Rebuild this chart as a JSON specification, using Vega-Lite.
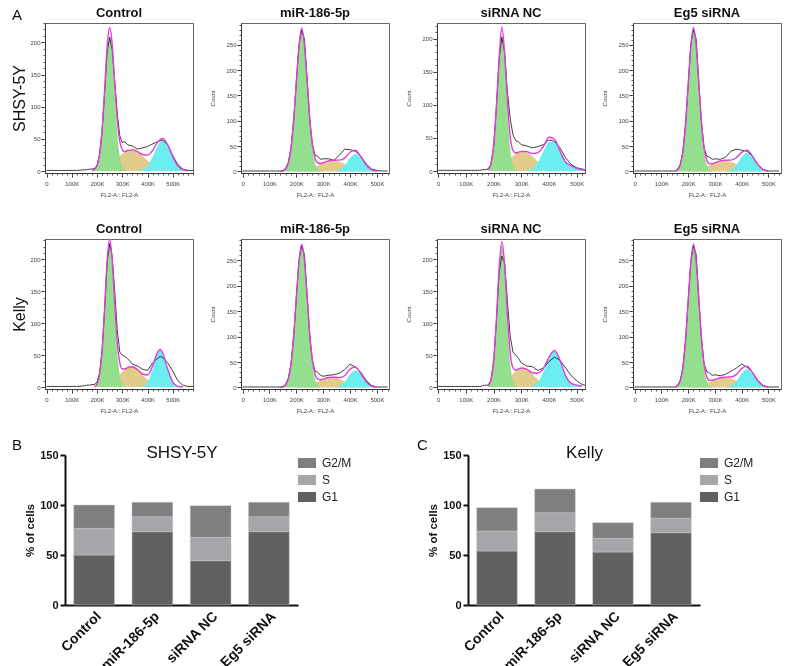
{
"$schema":"https://vega.github.io/schema/vega-lite/v6.json",
"background":"white",
"padding":{"left":11,"top":6,"right":0,"bottom":0},
"config":{"font":"Liberation Sans","view":{"stroke":"#666","strokeWidth":1},"axis":{"labelFont":"Liberation Sans","titleFont":"Liberation Sans","grid":false},"axisY":{"labelOverlap":false},"legend":{"labelFont":"Liberation Sans"},"title":{"font":"Liberation Sans"}},
"datasets":{
"h":[
{"p":"a1","x":0,"r":1},{"p":"a1","x":60,"r":1},{"p":"a1","x":120,"r":1},{"p":"a1","x":150,"r":2},{"p":"a1","x":160,"r":2},{"p":"a1","x":170,"r":3},
{"p":"a1","x":180,"g":0.2,"s":0.6,"f":0.8,"r":3},{"p":"a1","x":190,"g":1.5,"s":1,"f":2.5,"r":4},{"p":"a1","x":200,"g":6.4,"s":1.6,"f":8,"r":9},
{"p":"a1","x":210,"g":22.7,"s":2.5,"f":25.2,"r":26},{"p":"a1","x":220,"g":59.9,"s":3.7,"f":63.6,"r":62},{"p":"a1","x":230,"g":119.6,"s":5.3,"f":124.9,"r":122},
{"p":"a1","x":240,"g":181.2,"s":7.4,"f":193,"r":185},{"p":"a1","x":250,"g":208,"s":10,"f":223,"r":208},{"p":"a1","x":260,"g":181.2,"s":13,"f":197,"r":188},
{"p":"a1","x":270,"g":119.6,"s":16.4,"f":136,"r":140},{"p":"a1","x":280,"g":59.9,"s":20,"f":79.9,"r":90},{"p":"a1","x":290,"g":22.7,"s":23.6,"f":46.3,"r":55},
{"p":"a1","x":300,"g":6.4,"s":27,"f":33.4,"r":44},{"p":"a1","x":310,"g":1.5,"s":28.3,"f":29.8,"r":46},{"p":"a1","x":320,"g":0.2,"s":31.8,"f":32,"r":41},
{"p":"a1","x":340,"s":32.9,"f":32.9,"r":39},{"p":"a1","x":360,"s":29.8,"m":0.4,"f":30.2,"r":34},{"p":"a1","x":380,"s":23.6,"m":2.1,"f":25.7,"r":36},
{"p":"a1","x":400,"s":16.4,"m":8.3,"f":24.7,"r":38},{"p":"a1","x":420,"s":10,"m":22,"f":32,"r":42},{"p":"a1","x":440,"s":5.3,"m":39.5,"f":44.8,"r":46},
{"p":"a1","x":460,"s":2.5,"m":48,"f":50.5,"r":48},{"p":"a1","x":480,"s":1,"m":39.5,"f":40.5,"r":41},{"p":"a1","x":500,"s":0.4,"m":22,"f":22.4,"r":24},
{"p":"a1","x":520,"m":8.3,"f":8.3,"r":10},{"p":"a1","x":540,"m":2.1,"f":2.1,"r":3},{"p":"a1","x":560,"m":0.4,"f":0.4,"r":1},{"p":"a1","x":580,"r":1},

{"p":"a2","x":0,"r":1},{"p":"a2","x":60,"r":1},{"p":"a2","x":120,"r":1},{"p":"a2","x":140,"g":0.3,"f":0.3,"r":1},{"p":"a2","x":150,"g":1,"f":1,"r":2},
{"p":"a2","x":160,"g":4.7,"f":4.7,"r":6},{"p":"a2","x":170,"g":16.3,"f":16.3,"r":18},{"p":"a2","x":180,"g":45,"f":45,"r":47},
{"p":"a2","x":190,"g":99.4,"s":0.3,"f":99.7,"r":100},{"p":"a2","x":200,"g":175.3,"s":0.6,"f":175.9,"r":178},{"p":"a2","x":210,"g":246.5,"s":1,"f":247.5,"r":250},
{"p":"a2","x":220,"g":276,"s":1.6,"f":283,"r":279},{"p":"a2","x":230,"g":246.5,"s":2.4,"f":248.9,"r":262},{"p":"a2","x":240,"g":175.3,"s":3.6,"f":178.9,"r":185},
{"p":"a2","x":250,"g":99.4,"s":5.2,"f":104.6,"r":102},{"p":"a2","x":260,"g":45,"s":7.1,"f":52.1,"r":52},{"p":"a2","x":270,"g":16.3,"s":9.5,"f":25.8,"r":32},
{"p":"a2","x":280,"g":4.7,"s":12,"f":16.7,"r":30},{"p":"a2","x":290,"g":1,"s":14.7,"f":15.7,"r":24},{"p":"a2","x":300,"g":0.2,"s":17.2,"f":17.4,"r":25},
{"p":"a2","x":320,"s":21,"f":21,"r":25},{"p":"a2","x":340,"s":21.9,"m":0.4,"f":22.3,"r":22},{"p":"a2","x":360,"s":19.4,"m":3,"f":22.4,"r":32},
{"p":"a2","x":380,"s":14.7,"m":11.7,"f":26.4,"r":44},{"p":"a2","x":400,"s":9.5,"m":26.6,"f":38,"r":43},{"p":"a2","x":420,"s":5.2,"m":35,"f":42,"r":40},
{"p":"a2","x":440,"s":2.4,"m":26.6,"f":29,"r":30},{"p":"a2","x":460,"s":1,"m":11.7,"f":12.7,"r":15},{"p":"a2","x":480,"s":0.4,"m":3,"f":3.4,"r":5},
{"p":"a2","x":500,"m":0.4,"f":0.4,"r":2},{"p":"a2","x":520,"r":1},{"p":"a2","x":540,"r":1},

{"p":"a3","x":0,"r":1},{"p":"a3","x":60,"r":1},{"p":"a3","x":120,"r":1},{"p":"a3","x":150,"r":1},{"p":"a3","x":160,"r":2},{"p":"a3","x":170,"r":2},
{"p":"a3","x":180,"g":1.5,"s":0.6,"f":2.1,"r":3},{"p":"a3","x":190,"g":8.8,"s":1.1,"f":9.9,"r":10},{"p":"a3","x":200,"g":34.4,"s":2,"f":36.4,"r":36},
{"p":"a3","x":210,"g":91.6,"s":3.2,"f":94.8,"r":95},{"p":"a3","x":220,"g":164.6,"s":5,"f":169.6,"r":168},{"p":"a3","x":230,"g":200,"s":7.5,"f":218,"r":203},
{"p":"a3","x":240,"g":164.6,"s":10.6,"f":178,"r":178},{"p":"a3","x":250,"g":91.6,"s":14.2,"f":105.8,"r":120},{"p":"a3","x":260,"g":34.4,"s":18.2,"f":52.6,"r":80},
{"p":"a3","x":270,"g":8.8,"s":22.2,"f":31,"r":55},{"p":"a3","x":280,"g":1.5,"s":25.7,"f":27.2,"r":46},{"p":"a3","x":290,"g":0.2,"s":28.4,"f":28.6,"r":44},
{"p":"a3","x":300,"s":29.8,"f":29.8,"r":40},{"p":"a3","x":320,"s":28.4,"m":0.9,"f":29.3,"r":38},{"p":"a3","x":340,"s":22.2,"m":4.2,"f":26.4,"r":35},
{"p":"a3","x":360,"s":14.2,"m":13.6,"f":27.8,"r":37},{"p":"a3","x":380,"s":7.5,"m":29.6,"f":37.1,"r":40},{"p":"a3","x":400,"s":3.2,"m":43.8,"f":51,"r":47},
{"p":"a3","x":420,"s":1.1,"m":43.8,"f":48,"r":45},{"p":"a3","x":440,"s":0.3,"m":29.6,"f":29.9,"r":35},{"p":"a3","x":460,"m":13.6,"f":13.6,"r":20},
{"p":"a3","x":480,"m":8,"f":8,"r":10},{"p":"a3","x":500,"m":4,"f":4,"r":5},{"p":"a3","x":520,"m":2,"f":2,"r":3},{"p":"a3","x":530,"m":1.5,"f":1.5,"r":2},

{"p":"a4","x":0,"r":1},{"p":"a4","x":60,"r":1},{"p":"a4","x":120,"r":1},{"p":"a4","x":150,"g":0.6,"f":0.6,"r":1},{"p":"a4","x":160,"g":3.1,"f":3.1,"r":4},
{"p":"a4","x":170,"g":12.2,"f":12.2,"r":13},{"p":"a4","x":180,"g":37.5,"f":37.5,"r":38},{"p":"a4","x":190,"g":90.4,"f":90.4,"r":92},
{"p":"a4","x":200,"g":168.7,"s":0.6,"f":169.3,"r":170},{"p":"a4","x":210,"g":245.2,"s":1,"f":246.2,"r":250},{"p":"a4","x":220,"g":278,"s":1.6,"f":284,"r":280},
{"p":"a4","x":230,"g":245.2,"s":2.4,"f":247.6,"r":262},{"p":"a4","x":240,"g":168.7,"s":3.6,"f":172.3,"r":176},{"p":"a4","x":250,"g":90.4,"s":5.2,"f":95.6,"r":96},
{"p":"a4","x":260,"g":37.5,"s":7.1,"f":44.6,"r":45},{"p":"a4","x":270,"g":12.2,"s":9.5,"f":21.7,"r":30},{"p":"a4","x":280,"g":3.1,"s":12,"f":15.1,"r":28},
{"p":"a4","x":290,"g":0.6,"s":14.7,"f":15.3,"r":24},{"p":"a4","x":300,"s":17.2,"f":17.2,"r":25},{"p":"a4","x":320,"s":21,"f":21,"r":24},
{"p":"a4","x":340,"s":21.9,"m":0.4,"f":22.3,"r":28},{"p":"a4","x":360,"s":19.4,"m":3.1,"f":22.5,"r":40},{"p":"a4","x":380,"s":14.7,"m":12.4,"f":27.1,"r":44},
{"p":"a4","x":400,"s":9.5,"m":28.1,"f":37.6,"r":42},{"p":"a4","x":420,"s":5.2,"m":37,"f":42.2,"r":40},{"p":"a4","x":440,"s":2.4,"m":28.1,"f":30.5,"r":30},
{"p":"a4","x":460,"s":1,"m":12.4,"f":13.4,"r":14},{"p":"a4","x":480,"s":0.4,"m":3.1,"f":3.5,"r":4},{"p":"a4","x":500,"m":0.4,"f":0.4,"r":1},
{"p":"a4","x":520,"r":1},{"p":"a4","x":540,"r":1},

{"p":"b1","x":0,"r":1},{"p":"b1","x":60,"r":1},{"p":"b1","x":120,"r":1},{"p":"b1","x":150,"r":2},{"p":"b1","x":160,"r":3},{"p":"b1","x":170,"r":3},{"p":"b1","x":180,"r":4},
{"p":"b1","x":190,"g":0.9,"f":0.9,"r":4},{"p":"b1","x":200,"g":4.7,"s":0.4,"f":5.1,"r":8},{"p":"b1","x":210,"g":19,"s":0.7,"f":19.7,"r":22},
{"p":"b1","x":220,"g":55.5,"s":1.2,"f":56.7,"r":58},{"p":"b1","x":230,"g":120.2,"s":2.1,"f":122.3,"r":122},{"p":"b1","x":240,"g":191.1,"s":3.5,"f":198,"r":195},
{"p":"b1","x":250,"g":223,"s":5.4,"f":232,"r":225},{"p":"b1","x":260,"g":191.1,"s":8,"f":199.1,"r":205},{"p":"b1","x":270,"g":120.2,"s":11.3,"f":131.5,"r":150},
{"p":"b1","x":280,"g":55.5,"s":15.2,"f":70.7,"r":90},{"p":"b1","x":290,"g":19,"s":19.4,"f":38.4,"r":55},{"p":"b1","x":300,"g":4.7,"s":23.6,"f":28.3,"r":50},
{"p":"b1","x":310,"g":0.9,"s":27.4,"f":28.3,"r":48},{"p":"b1","x":320,"s":30.3,"f":30.3,"r":45},{"p":"b1","x":340,"s":31.8,"f":31.8,"r":36},
{"p":"b1","x":360,"s":27.4,"m":0.1,"f":27.5,"r":33},{"p":"b1","x":380,"s":19.4,"m":1.1,"f":20.5,"r":28},{"p":"b1","x":400,"s":11.3,"m":7.7,"f":19,"r":26},
{"p":"b1","x":420,"s":5.4,"m":27.8,"f":33.2,"r":38},{"p":"b1","x":440,"s":2.1,"m":52.6,"f":54.7,"r":45},{"p":"b1","x":450,"s":1.2,"m":57,"f":59,"r":48},
{"p":"b1","x":460,"s":0.7,"m":52.6,"f":53.3,"r":46},{"p":"b1","x":480,"s":0.2,"m":27.8,"f":28,"r":38},{"p":"b1","x":500,"m":7.7,"f":7.7,"r":25},
{"p":"b1","x":520,"m":1.1,"f":1.1,"r":10},{"p":"b1","x":540,"m":0.1,"f":0.1,"r":3},{"p":"b1","x":560,"r":1},{"p":"b1","x":580,"r":1},

{"p":"b2","x":0,"r":1},{"p":"b2","x":60,"r":1},{"p":"b2","x":120,"r":1},{"p":"b2","x":140,"g":0.3,"f":0.3,"r":1},{"p":"b2","x":150,"g":1,"f":1,"r":2},
{"p":"b2","x":160,"g":4.7,"f":4.7,"r":6},{"p":"b2","x":170,"g":16.3,"f":16.3,"r":18},{"p":"b2","x":180,"g":45.2,"f":45.2,"r":46},{"p":"b2","x":190,"g":99.7,"f":99.7,"r":100},
{"p":"b2","x":200,"g":175.9,"s":0.5,"f":176.4,"r":178},{"p":"b2","x":210,"g":247.4,"s":0.9,"f":248.3,"r":250},{"p":"b2","x":220,"g":277,"s":1.4,"f":282,"r":279},
{"p":"b2","x":230,"g":247.4,"s":2.3,"f":249.7,"r":262},{"p":"b2","x":240,"g":175.9,"s":3.4,"f":179.3,"r":185},{"p":"b2","x":250,"g":99.7,"s":5,"f":104.7,"r":102},
{"p":"b2","x":260,"g":45.2,"s":6.9,"f":52.1,"r":52},{"p":"b2","x":270,"g":16.3,"s":9.2,"f":25.5,"r":32},{"p":"b2","x":280,"g":4.7,"s":11.6,"f":16.3,"r":30},
{"p":"b2","x":290,"g":1,"s":14.1,"f":15.1,"r":24},{"p":"b2","x":300,"s":16.5,"f":16.5,"r":22},{"p":"b2","x":320,"s":19.6,"f":19.6,"r":24},
{"p":"b2","x":340,"s":19.6,"m":0.4,"f":20,"r":25},{"p":"b2","x":360,"s":16.5,"m":2.9,"f":19.4,"r":28},{"p":"b2","x":380,"s":11.6,"m":11.4,"f":23,"r":35},
{"p":"b2","x":400,"s":6.9,"m":25.8,"f":36,"r":46},{"p":"b2","x":420,"s":3.4,"m":34,"f":40,"r":40},{"p":"b2","x":440,"s":1.4,"m":25.8,"f":27.2,"r":30},
{"p":"b2","x":460,"s":0.5,"m":11.4,"f":11.9,"r":14},{"p":"b2","x":480,"m":2.9,"f":2.9,"r":4},{"p":"b2","x":500,"m":0.4,"f":0.4,"r":1},
{"p":"b2","x":520,"r":1},{"p":"b2","x":540,"r":1},

{"p":"b3","x":0,"r":1},{"p":"b3","x":60,"r":1},{"p":"b3","x":120,"r":1},{"p":"b3","x":150,"r":1},{"p":"b3","x":160,"r":2},{"p":"b3","x":170,"r":3},
{"p":"b3","x":180,"g":1.7,"f":1.7,"r":3},{"p":"b3","x":190,"g":9.8,"s":0.5,"f":10.3,"r":10},{"p":"b3","x":200,"g":38.2,"s":1,"f":39.2,"r":38},
{"p":"b3","x":210,"g":101.7,"s":1.8,"f":103.5,"r":100},{"p":"b3","x":220,"g":182.7,"s":3.2,"f":185.9,"r":180},{"p":"b3","x":230,"g":222,"s":5.2,"f":228,"r":205},
{"p":"b3","x":240,"g":182.7,"s":8,"f":190.7,"r":195},{"p":"b3","x":250,"g":101.7,"s":11.7,"f":113.4,"r":135},{"p":"b3","x":260,"g":38.2,"s":15.9,"f":54.1,"r":80},
{"p":"b3","x":270,"g":9.8,"s":20.5,"f":30.3,"r":55},{"p":"b3","x":280,"g":1.7,"s":24.7,"f":26.4,"r":50},{"p":"b3","x":290,"g":0.2,"s":28,"f":28.2,"r":45},
{"p":"b3","x":300,"s":29.8,"f":29.8,"r":38},{"p":"b3","x":320,"s":28,"f":28,"r":33},{"p":"b3","x":340,"s":20.5,"m":2,"f":22.5,"r":32},
{"p":"b3","x":360,"s":11.7,"m":8,"f":22,"r":26},{"p":"b3","x":380,"s":5.2,"m":24,"f":29.2,"r":30},{"p":"b3","x":400,"s":1.8,"m":45,"f":46.8,"r":40},
{"p":"b3","x":420,"s":0.5,"m":57,"f":57.5,"r":47},{"p":"b3","x":440,"m":42,"f":42,"r":42},{"p":"b3","x":460,"m":18,"f":18,"r":30},
{"p":"b3","x":480,"m":6,"f":6,"r":18},{"p":"b3","x":500,"m":3,"f":3,"r":10},{"p":"b3","x":520,"m":1.5,"f":1.5,"r":4},{"p":"b3","x":530,"r":3},

{"p":"b4","x":0,"r":1},{"p":"b4","x":60,"r":1},{"p":"b4","x":120,"r":1},{"p":"b4","x":150,"g":0.6,"f":0.6,"r":1},{"p":"b4","x":160,"g":3,"f":3,"r":4},
{"p":"b4","x":170,"g":12.2,"f":12.2,"r":13},{"p":"b4","x":180,"g":37.4,"f":37.4,"r":38},{"p":"b4","x":190,"g":90,"f":90,"r":92},
{"p":"b4","x":200,"g":168.1,"s":0.5,"f":168.6,"r":170},{"p":"b4","x":210,"g":244.3,"s":0.9,"f":245.2,"r":248},{"p":"b4","x":220,"g":277,"s":1.4,"f":283,"r":279},
{"p":"b4","x":230,"g":244.3,"s":2.2,"f":246.5,"r":262},{"p":"b4","x":240,"g":168.1,"s":3.3,"f":171.4,"r":176},{"p":"b4","x":250,"g":90,"s":4.7,"f":94.7,"r":96},
{"p":"b4","x":260,"g":37.4,"s":6.5,"f":43.9,"r":45},{"p":"b4","x":270,"g":12.2,"s":8.6,"f":20.8,"r":31},{"p":"b4","x":280,"g":3,"s":10.9,"f":13.9,"r":28},
{"p":"b4","x":290,"g":0.6,"s":13.3,"f":13.9,"r":24},{"p":"b4","x":300,"s":15.7,"f":15.7,"r":25},{"p":"b4","x":320,"s":19.1,"f":19.1,"r":23},
{"p":"b4","x":340,"s":19.9,"m":0.4,"f":20.3,"r":26},{"p":"b4","x":360,"s":17.6,"m":3.1,"f":20.7,"r":32},{"p":"b4","x":380,"s":13.3,"m":12,"f":25.3,"r":38},
{"p":"b4","x":400,"s":8.6,"m":27.4,"f":37,"r":46},{"p":"b4","x":420,"s":4.7,"m":36,"f":42,"r":40},{"p":"b4","x":440,"s":2.2,"m":27.4,"f":29.6,"r":30},
{"p":"b4","x":460,"s":0.9,"m":12,"f":12.9,"r":14},{"p":"b4","x":480,"s":0.4,"m":3.1,"f":3.5,"r":4},{"p":"b4","x":500,"m":0.4,"f":0.4,"r":1},
{"p":"b4","x":520,"r":1},{"p":"b4","x":540,"r":1}
],
"bars":[
{"cell":"SHSY-5Y","grp":"Control","phase":"G1","v":50},{"cell":"SHSY-5Y","grp":"Control","phase":"S","v":26.7},{"cell":"SHSY-5Y","grp":"Control","phase":"G2/M","v":23.3},
{"cell":"SHSY-5Y","grp":"miR-186-5p","phase":"G1","v":73.3},{"cell":"SHSY-5Y","grp":"miR-186-5p","phase":"S","v":15},{"cell":"SHSY-5Y","grp":"miR-186-5p","phase":"G2/M","v":14.4},
{"cell":"SHSY-5Y","grp":"siRNA NC","phase":"G1","v":44.3},{"cell":"SHSY-5Y","grp":"siRNA NC","phase":"S","v":23.4},{"cell":"SHSY-5Y","grp":"siRNA NC","phase":"G2/M","v":31.6},
{"cell":"SHSY-5Y","grp":"Eg5 siRNA","phase":"G1","v":73.3},{"cell":"SHSY-5Y","grp":"Eg5 siRNA","phase":"S","v":15},{"cell":"SHSY-5Y","grp":"Eg5 siRNA","phase":"G2/M","v":14.4},
{"cell":"Kelly","grp":"Control","phase":"G1","v":54},{"cell":"Kelly","grp":"Control","phase":"S","v":20},{"cell":"Kelly","grp":"Control","phase":"G2/M","v":23.3},
{"cell":"Kelly","grp":"miR-186-5p","phase":"G1","v":73.3},{"cell":"Kelly","grp":"miR-186-5p","phase":"S","v":19},{"cell":"Kelly","grp":"miR-186-5p","phase":"G2/M","v":23.7},
{"cell":"Kelly","grp":"siRNA NC","phase":"G1","v":53},{"cell":"Kelly","grp":"siRNA NC","phase":"S","v":13.7},{"cell":"Kelly","grp":"siRNA NC","phase":"G2/M","v":15.6},
{"cell":"Kelly","grp":"Eg5 siRNA","phase":"G1","v":72.3},{"cell":"Kelly","grp":"Eg5 siRNA","phase":"S","v":14.4},{"cell":"Kelly","grp":"Eg5 siRNA","phase":"G2/M","v":16}
]
},
"vconcat":[
{"title":{"text":"A","anchor":"start","frame":"group","dx":-33,"dy":17,"fontSize":15,"fontWeight":"normal","color":"#111","offset":0},
 "hconcat":[
 {"width":148,"height":150,"title":{"text":"Control","fontSize":13,"fontWeight":"bold","offset":3,"color":"#111"},"data":{"name":"h"},"transform":[{"filter":"datum.p=='a1'"},{"fold":["s","g","m","r","f"]}],
  "layer":[
   {"encoding":{"x":{"field":"x","type":"quantitative","scale":{"domain":[-6,580],"nice":false,"zero":false},"axis":{"values":[0,100,200,300,400,500],"labelExpr":"datum.value==0?'0':datum.value+'K'","labelFontSize":6,"labelColor":"#444","labelFlush":false,"labelOverlap":false,"tickSize":4,"tickColor":"#333","domainColor":"#333","labelPadding":3,"title":"FL2-A:: FL2-A","titleFontSize":6,"titleFontWeight":"normal","titleColor":"#444","titlePadding":5}},
    "y":{"field":"value","type":"quantitative","stack":null,"scale":{"domain":[-3,230],"nice":false,"zero":false},"axis":{"values":[0,50,100,150,200],"labelOverlap":false,"labelFontSize":6,"labelColor":"#444","tickSize":4,"tickColor":"#333","domainColor":"#333","labelPadding":1,"title":"SHSY-5Y","titleFontSize":16,"titleFontWeight":"normal","titleColor":"#111","titlePadding":2}}},
    "layer":[
     {"transform":[{"filter":"datum.key=='s'"}],"mark":{"type":"area","color":"#e2cc8c","opacity":1,"interpolate":"monotone","blend":"multiply","clip":true}},
     {"transform":[{"filter":"datum.key=='g'"}],"mark":{"type":"area","color":"#93df8e","opacity":1,"interpolate":"monotone","blend":"multiply","clip":true}},
     {"transform":[{"filter":"datum.key=='m'"}],"mark":{"type":"area","color":"#6aeef0","opacity":1,"interpolate":"monotone","blend":"multiply","clip":true}},
     {"transform":[{"filter":"datum.key=='r'"}],"mark":{"type":"line","color":"#111","strokeWidth":0.8,"clip":true}},
     {"transform":[{"filter":"datum.key=='f'"}],"mark":{"type":"line","color":"#e03cd8","strokeWidth":1.4,"interpolate":"monotone","clip":true}}
    ]},
   {"mark":{"type":"line","opacity":0},"encoding":{"x":{"field":"x","type":"quantitative","axis":{"orient":"bottom","labels":false,"domain":false,"title":null,"tickCount":29,"tickSize":2,"tickColor":"#555"}},"y":{"field":"value","type":"quantitative","axis":{"orient":"left","labels":false,"domain":false,"title":null,"tickCount":23,"tickSize":2,"tickColor":"#555"}}}}
  ],
  "resolve":{"axis":{"x":"independent","y":"independent"}}},
 {"width":148,"height":150,"title":{"text":"miR-186-5p","fontSize":13,"fontWeight":"bold","offset":3,"color":"#111"},"data":{"name":"h"},"transform":[{"filter":"datum.p=='a2'"},{"fold":["s","g","m","r","f"]}],
  "layer":[
   {"encoding":{"x":{"field":"x","type":"quantitative","scale":{"domain":[-6,545],"nice":false,"zero":false},"axis":{"values":[0,100,200,300,400,500],"labelExpr":"datum.value==0?'0':datum.value+'K'","labelFontSize":6,"labelColor":"#444","labelFlush":false,"labelOverlap":false,"tickSize":4,"tickColor":"#333","domainColor":"#333","labelPadding":3,"title":"FL2-A:: FL2-A","titleFontSize":6,"titleFontWeight":"normal","titleColor":"#444","titlePadding":5}},
    "y":{"field":"value","type":"quantitative","stack":null,"scale":{"domain":[-3,293],"nice":false,"zero":false},"axis":{"values":[0,50,100,150,200,250],"labelOverlap":false,"labelFontSize":6,"labelColor":"#444","tickSize":4,"tickColor":"#333","domainColor":"#333","labelPadding":1,"title":"Count","titleFontSize":6,"titleFontWeight":"normal","titleColor":"#444","titlePadding":10}}},
    "layer":[
     {"transform":[{"filter":"datum.key=='s'"}],"mark":{"type":"area","color":"#e2cc8c","opacity":1,"interpolate":"monotone","blend":"multiply","clip":true}},
     {"transform":[{"filter":"datum.key=='g'"}],"mark":{"type":"area","color":"#93df8e","opacity":1,"interpolate":"monotone","blend":"multiply","clip":true}},
     {"transform":[{"filter":"datum.key=='m'"}],"mark":{"type":"area","color":"#6aeef0","opacity":1,"interpolate":"monotone","blend":"multiply","clip":true}},
     {"transform":[{"filter":"datum.key=='r'"}],"mark":{"type":"line","color":"#111","strokeWidth":0.8,"clip":true}},
     {"transform":[{"filter":"datum.key=='f'"}],"mark":{"type":"line","color":"#e03cd8","strokeWidth":1.4,"interpolate":"monotone","clip":true}}
    ]},
   {"mark":{"type":"line","opacity":0},"encoding":{"x":{"field":"x","type":"quantitative","axis":{"orient":"bottom","labels":false,"domain":false,"title":null,"tickCount":29,"tickSize":2,"tickColor":"#555"}},"y":{"field":"value","type":"quantitative","axis":{"orient":"left","labels":false,"domain":false,"title":null,"tickCount":29,"tickSize":2,"tickColor":"#555"}}}}
  ],
  "resolve":{"axis":{"x":"independent","y":"independent"}}},
 {"width":148,"height":150,"title":{"text":"siRNA NC","fontSize":13,"fontWeight":"bold","offset":3,"color":"#111"},"data":{"name":"h"},"transform":[{"filter":"datum.p=='a3'"},{"fold":["s","g","m","r","f"]}],
  "layer":[
   {"encoding":{"x":{"field":"x","type":"quantitative","scale":{"domain":[-4,530],"nice":false,"zero":false},"axis":{"values":[0,100,200,300,400,500],"labelExpr":"datum.value==0?'0':datum.value+'K'","labelFontSize":6,"labelColor":"#444","labelFlush":false,"labelOverlap":false,"tickSize":4,"tickColor":"#333","domainColor":"#333","labelPadding":3,"title":"FL2-A:: FL2-A","titleFontSize":6,"titleFontWeight":"normal","titleColor":"#444","titlePadding":5}},
    "y":{"field":"value","type":"quantitative","stack":null,"scale":{"domain":[-3,224],"nice":false,"zero":false},"axis":{"values":[0,50,100,150,200],"labelOverlap":false,"labelFontSize":6,"labelColor":"#444","tickSize":4,"tickColor":"#333","domainColor":"#333","labelPadding":1,"title":"Count","titleFontSize":6,"titleFontWeight":"normal","titleColor":"#444","titlePadding":10}}},
    "layer":[
     {"transform":[{"filter":"datum.key=='s'"}],"mark":{"type":"area","color":"#e2cc8c","opacity":1,"interpolate":"monotone","blend":"multiply","clip":true}},
     {"transform":[{"filter":"datum.key=='g'"}],"mark":{"type":"area","color":"#93df8e","opacity":1,"interpolate":"monotone","blend":"multiply","clip":true}},
     {"transform":[{"filter":"datum.key=='m'"}],"mark":{"type":"area","color":"#6aeef0","opacity":1,"interpolate":"monotone","blend":"multiply","clip":true}},
     {"transform":[{"filter":"datum.key=='r'"}],"mark":{"type":"line","color":"#111","strokeWidth":0.8,"clip":true}},
     {"transform":[{"filter":"datum.key=='f'"}],"mark":{"type":"line","color":"#e03cd8","strokeWidth":1.4,"interpolate":"monotone","clip":true}}
    ]},
   {"mark":{"type":"line","opacity":0},"encoding":{"x":{"field":"x","type":"quantitative","axis":{"orient":"bottom","labels":false,"domain":false,"title":null,"tickCount":29,"tickSize":2,"tickColor":"#555"}},"y":{"field":"value","type":"quantitative","axis":{"orient":"left","labels":false,"domain":false,"title":null,"tickCount":22,"tickSize":2,"tickColor":"#555"}}}}
  ],
  "resolve":{"axis":{"x":"independent","y":"independent"}}},
 {"width":148,"height":150,"title":{"text":"Eg5 siRNA","fontSize":13,"fontWeight":"bold","offset":3,"color":"#111"},"data":{"name":"h"},"transform":[{"filter":"datum.p=='a4'"},{"fold":["s","g","m","r","f"]}],
  "layer":[
   {"encoding":{"x":{"field":"x","type":"quantitative","scale":{"domain":[-6,547],"nice":false,"zero":false},"axis":{"values":[0,100,200,300,400,500],"labelExpr":"datum.value==0?'0':datum.value+'K'","labelFontSize":6,"labelColor":"#444","labelFlush":false,"labelOverlap":false,"tickSize":4,"tickColor":"#333","domainColor":"#333","labelPadding":3,"title":"FL2-A:: FL2-A","titleFontSize":6,"titleFontWeight":"normal","titleColor":"#444","titlePadding":5}},
    "y":{"field":"value","type":"quantitative","stack":null,"scale":{"domain":[-3,293],"nice":false,"zero":false},"axis":{"values":[0,50,100,150,200,250],"labelOverlap":false,"labelFontSize":6,"labelColor":"#444","tickSize":4,"tickColor":"#333","domainColor":"#333","labelPadding":1,"title":"Count","titleFontSize":6,"titleFontWeight":"normal","titleColor":"#444","titlePadding":10}}},
    "layer":[
     {"transform":[{"filter":"datum.key=='s'"}],"mark":{"type":"area","color":"#e2cc8c","opacity":1,"interpolate":"monotone","blend":"multiply","clip":true}},
     {"transform":[{"filter":"datum.key=='g'"}],"mark":{"type":"area","color":"#93df8e","opacity":1,"interpolate":"monotone","blend":"multiply","clip":true}},
     {"transform":[{"filter":"datum.key=='m'"}],"mark":{"type":"area","color":"#6aeef0","opacity":1,"interpolate":"monotone","blend":"multiply","clip":true}},
     {"transform":[{"filter":"datum.key=='r'"}],"mark":{"type":"line","color":"#111","strokeWidth":0.8,"clip":true}},
     {"transform":[{"filter":"datum.key=='f'"}],"mark":{"type":"line","color":"#e03cd8","strokeWidth":1.4,"interpolate":"monotone","clip":true}}
    ]},
   {"mark":{"type":"line","opacity":0},"encoding":{"x":{"field":"x","type":"quantitative","axis":{"orient":"bottom","labels":false,"domain":false,"title":null,"tickCount":29,"tickSize":2,"tickColor":"#555"}},"y":{"field":"value","type":"quantitative","axis":{"orient":"left","labels":false,"domain":false,"title":null,"tickCount":29,"tickSize":2,"tickColor":"#555"}}}}
  ],
  "resolve":{"axis":{"x":"independent","y":"independent"}}}
 ],
 "spacing":48,"bounds":"flush"},
{"hconcat":[
 {"width":148,"height":150,"title":{"text":"Control","fontSize":13,"fontWeight":"bold","offset":3,"color":"#111"},"data":{"name":"h"},"transform":[{"filter":"datum.p=='b1'"},{"fold":["s","g","m","r","f"]}],
  "layer":[
   {"encoding":{"x":{"field":"x","type":"quantitative","scale":{"domain":[-6,580],"nice":false,"zero":false},"axis":{"values":[0,100,200,300,400,500],"labelExpr":"datum.value==0?'0':datum.value+'K'","labelFontSize":6,"labelColor":"#444","labelFlush":false,"labelOverlap":false,"tickSize":4,"tickColor":"#333","domainColor":"#333","labelPadding":3,"title":"FL2-A:: FL2-A","titleFontSize":6,"titleFontWeight":"normal","titleColor":"#444","titlePadding":5}},
    "y":{"field":"value","type":"quantitative","stack":null,"scale":{"domain":[-3,232],"nice":false,"zero":false},"axis":{"values":[0,50,100,150,200],"labelOverlap":false,"labelFontSize":6,"labelColor":"#444","tickSize":4,"tickColor":"#333","domainColor":"#333","labelPadding":1,"title":"Kelly","titleFontSize":16,"titleFontWeight":"normal","titleColor":"#111","titlePadding":2}}},
    "layer":[
     {"transform":[{"filter":"datum.key=='s'"}],"mark":{"type":"area","color":"#e2cc8c","opacity":1,"interpolate":"monotone","blend":"multiply","clip":true}},
     {"transform":[{"filter":"datum.key=='g'"}],"mark":{"type":"area","color":"#93df8e","opacity":1,"interpolate":"monotone","blend":"multiply","clip":true}},
     {"transform":[{"filter":"datum.key=='m'"}],"mark":{"type":"area","color":"#6aeef0","opacity":1,"interpolate":"monotone","blend":"multiply","clip":true}},
     {"transform":[{"filter":"datum.key=='r'"}],"mark":{"type":"line","color":"#111","strokeWidth":0.8,"clip":true}},
     {"transform":[{"filter":"datum.key=='f'"}],"mark":{"type":"line","color":"#e03cd8","strokeWidth":1.4,"interpolate":"monotone","clip":true}}
    ]},
   {"mark":{"type":"line","opacity":0},"encoding":{"x":{"field":"x","type":"quantitative","axis":{"orient":"bottom","labels":false,"domain":false,"title":null,"tickCount":29,"tickSize":2,"tickColor":"#555"}},"y":{"field":"value","type":"quantitative","axis":{"orient":"left","labels":false,"domain":false,"title":null,"tickCount":23,"tickSize":2,"tickColor":"#555"}}}}
  ],
  "resolve":{"axis":{"x":"independent","y":"independent"}}},
 {"width":148,"height":150,"title":{"text":"miR-186-5p","fontSize":13,"fontWeight":"bold","offset":3,"color":"#111"},"data":{"name":"h"},"transform":[{"filter":"datum.p=='b2'"},{"fold":["s","g","m","r","f"]}],
  "layer":[
   {"encoding":{"x":{"field":"x","type":"quantitative","scale":{"domain":[-6,545],"nice":false,"zero":false},"axis":{"values":[0,100,200,300,400,500],"labelExpr":"datum.value==0?'0':datum.value+'K'","labelFontSize":6,"labelColor":"#444","labelFlush":false,"labelOverlap":false,"tickSize":4,"tickColor":"#333","domainColor":"#333","labelPadding":3,"title":"FL2-A:: FL2-A","titleFontSize":6,"titleFontWeight":"normal","titleColor":"#444","titlePadding":5}},
    "y":{"field":"value","type":"quantitative","stack":null,"scale":{"domain":[-3,292],"nice":false,"zero":false},"axis":{"values":[0,50,100,150,200,250],"labelOverlap":false,"labelFontSize":6,"labelColor":"#444","tickSize":4,"tickColor":"#333","domainColor":"#333","labelPadding":1,"title":"Count","titleFontSize":6,"titleFontWeight":"normal","titleColor":"#444","titlePadding":10}}},
    "layer":[
     {"transform":[{"filter":"datum.key=='s'"}],"mark":{"type":"area","color":"#e2cc8c","opacity":1,"interpolate":"monotone","blend":"multiply","clip":true}},
     {"transform":[{"filter":"datum.key=='g'"}],"mark":{"type":"area","color":"#93df8e","opacity":1,"interpolate":"monotone","blend":"multiply","clip":true}},
     {"transform":[{"filter":"datum.key=='m'"}],"mark":{"type":"area","color":"#6aeef0","opacity":1,"interpolate":"monotone","blend":"multiply","clip":true}},
     {"transform":[{"filter":"datum.key=='r'"}],"mark":{"type":"line","color":"#111","strokeWidth":0.8,"clip":true}},
     {"transform":[{"filter":"datum.key=='f'"}],"mark":{"type":"line","color":"#e03cd8","strokeWidth":1.4,"interpolate":"monotone","clip":true}}
    ]},
   {"mark":{"type":"line","opacity":0},"encoding":{"x":{"field":"x","type":"quantitative","axis":{"orient":"bottom","labels":false,"domain":false,"title":null,"tickCount":29,"tickSize":2,"tickColor":"#555"}},"y":{"field":"value","type":"quantitative","axis":{"orient":"left","labels":false,"domain":false,"title":null,"tickCount":29,"tickSize":2,"tickColor":"#555"}}}}
  ],
  "resolve":{"axis":{"x":"independent","y":"independent"}}},
 {"width":148,"height":150,"title":{"text":"siRNA NC","fontSize":13,"fontWeight":"bold","offset":3,"color":"#111"},"data":{"name":"h"},"transform":[{"filter":"datum.p=='b3'"},{"fold":["s","g","m","r","f"]}],
  "layer":[
   {"encoding":{"x":{"field":"x","type":"quantitative","scale":{"domain":[-4,530],"nice":false,"zero":false},"axis":{"values":[0,100,200,300,400,500],"labelExpr":"datum.value==0?'0':datum.value+'K'","labelFontSize":6,"labelColor":"#444","labelFlush":false,"labelOverlap":false,"tickSize":4,"tickColor":"#333","domainColor":"#333","labelPadding":3,"title":"FL2-A:: FL2-A","titleFontSize":6,"titleFontWeight":"normal","titleColor":"#444","titlePadding":5}},
    "y":{"field":"value","type":"quantitative","stack":null,"scale":{"domain":[-3,232],"nice":false,"zero":false},"axis":{"values":[0,50,100,150,200],"labelOverlap":false,"labelFontSize":6,"labelColor":"#444","tickSize":4,"tickColor":"#333","domainColor":"#333","labelPadding":1,"title":"Count","titleFontSize":6,"titleFontWeight":"normal","titleColor":"#444","titlePadding":10}}},
    "layer":[
     {"transform":[{"filter":"datum.key=='s'"}],"mark":{"type":"area","color":"#e2cc8c","opacity":1,"interpolate":"monotone","blend":"multiply","clip":true}},
     {"transform":[{"filter":"datum.key=='g'"}],"mark":{"type":"area","color":"#93df8e","opacity":1,"interpolate":"monotone","blend":"multiply","clip":true}},
     {"transform":[{"filter":"datum.key=='m'"}],"mark":{"type":"area","color":"#6aeef0","opacity":1,"interpolate":"monotone","blend":"multiply","clip":true}},
     {"transform":[{"filter":"datum.key=='r'"}],"mark":{"type":"line","color":"#111","strokeWidth":0.8,"clip":true}},
     {"transform":[{"filter":"datum.key=='f'"}],"mark":{"type":"line","color":"#e03cd8","strokeWidth":1.4,"interpolate":"monotone","clip":true}}
    ]},
   {"mark":{"type":"line","opacity":0},"encoding":{"x":{"field":"x","type":"quantitative","axis":{"orient":"bottom","labels":false,"domain":false,"title":null,"tickCount":29,"tickSize":2,"tickColor":"#555"}},"y":{"field":"value","type":"quantitative","axis":{"orient":"left","labels":false,"domain":false,"title":null,"tickCount":23,"tickSize":2,"tickColor":"#555"}}}}
  ],
  "resolve":{"axis":{"x":"independent","y":"independent"}}},
 {"width":148,"height":150,"title":{"text":"Eg5 siRNA","fontSize":13,"fontWeight":"bold","offset":3,"color":"#111"},"data":{"name":"h"},"transform":[{"filter":"datum.p=='b4'"},{"fold":["s","g","m","r","f"]}],
  "layer":[
   {"encoding":{"x":{"field":"x","type":"quantitative","scale":{"domain":[-6,547],"nice":false,"zero":false},"axis":{"values":[0,100,200,300,400,500],"labelExpr":"datum.value==0?'0':datum.value+'K'","labelFontSize":6,"labelColor":"#444","labelFlush":false,"labelOverlap":false,"tickSize":4,"tickColor":"#333","domainColor":"#333","labelPadding":3,"title":"FL2-A:: FL2-A","titleFontSize":6,"titleFontWeight":"normal","titleColor":"#444","titlePadding":5}},
    "y":{"field":"value","type":"quantitative","stack":null,"scale":{"domain":[-3,292],"nice":false,"zero":false},"axis":{"values":[0,50,100,150,200,250],"labelOverlap":false,"labelFontSize":6,"labelColor":"#444","tickSize":4,"tickColor":"#333","domainColor":"#333","labelPadding":1,"title":"Count","titleFontSize":6,"titleFontWeight":"normal","titleColor":"#444","titlePadding":10}}},
    "layer":[
     {"transform":[{"filter":"datum.key=='s'"}],"mark":{"type":"area","color":"#e2cc8c","opacity":1,"interpolate":"monotone","blend":"multiply","clip":true}},
     {"transform":[{"filter":"datum.key=='g'"}],"mark":{"type":"area","color":"#93df8e","opacity":1,"interpolate":"monotone","blend":"multiply","clip":true}},
     {"transform":[{"filter":"datum.key=='m'"}],"mark":{"type":"area","color":"#6aeef0","opacity":1,"interpolate":"monotone","blend":"multiply","clip":true}},
     {"transform":[{"filter":"datum.key=='r'"}],"mark":{"type":"line","color":"#111","strokeWidth":0.8,"clip":true}},
     {"transform":[{"filter":"datum.key=='f'"}],"mark":{"type":"line","color":"#e03cd8","strokeWidth":1.4,"interpolate":"monotone","clip":true}}
    ]},
   {"mark":{"type":"line","opacity":0},"encoding":{"x":{"field":"x","type":"quantitative","axis":{"orient":"bottom","labels":false,"domain":false,"title":null,"tickCount":29,"tickSize":2,"tickColor":"#555"}},"y":{"field":"value","type":"quantitative","axis":{"orient":"left","labels":false,"domain":false,"title":null,"tickCount":29,"tickSize":2,"tickColor":"#555"}}}}
  ],
  "resolve":{"axis":{"x":"independent","y":"independent"}}}
 ],
 "spacing":48,"bounds":"flush"},
{"hconcat":[
 {"width":1,"height":150,"view":{"stroke":null},"data":{"values":[{}]},"mark":{"type":"point","opacity":0}},
 {"hconcat":[
  {"width":233,"height":150,"view":{"stroke":null},
   "title":{"text":"B","anchor":"start","frame":"group","dx":-53,"dy":10,"fontSize":15,"fontWeight":"normal","color":"#111","offset":0},
   "data":{"name":"bars"},
   "transform":[{"filter":"datum.cell=='SHSY-5Y'"},{"calculate":"indexof(['G1','S','G2/M'],datum.phase)","as":"ord"}],
   "layer":[
    {"mark":{"type":"bar","stroke":"#c4c4c4","strokeWidth":0.5},
     "encoding":{
      "x":{"field":"grp","type":"nominal","sort":["Control","miR-186-5p","siRNA NC","Eg5 siRNA"],"scale":{"paddingInner":0.3,"paddingOuter":0.15},"axis":{"title":null,"labelAngle":-45,"labelFontSize":14,"labelFontWeight":"bold","labelColor":"#111","ticks":false,"domainColor":"#111","domainWidth":2,"labelPadding":4}},
      "y":{"field":"v","type":"quantitative","stack":"zero","scale":{"domain":[0,150],"nice":false},"axis":{"values":[0,50,100,150],"labelFontSize":11,"labelFontWeight":"bold","labelColor":"#111","tickSize":5,"tickWidth":2,"tickColor":"#111","domainColor":"#111","domainWidth":2,"labelPadding":2,"title":"% of cells","titleFontSize":11.5,"titleFontWeight":"bold","titleColor":"#111","titlePadding":4}},
      "color":{"field":"phase","type":"nominal","scale":{"domain":["G2/M","S","G1"],"range":["#7f7f7f","#a6a6aa","#616161"]},"legend":{"title":null,"orient":"right","offset":1,"padding":2,"symbolType":"M-1.8,-1H1.8V1H-1.8Z","symbolSize":100,"symbolStrokeWidth":0,"labelFontSize":12,"labelColor":"#222","labelOffset":9,"rowPadding":5}},
      "order":{"field":"ord","type":"quantitative"}}},
    {"mark":{"type":"point","opacity":0},
     "encoding":{"x":{"field":"grp","type":"nominal","sort":["Control","miR-186-5p","siRNA NC","Eg5 siRNA"],"axis":{"orient":"top","title":"SHSY-5Y","labels":false,"ticks":false,"domain":false,"titleFontSize":17,"titleFontWeight":"normal","titleColor":"#111","titlePadding":-6}}}}
   ],
   "resolve":{"axis":{"x":"independent"}}},
  {"width":232,"height":150,"view":{"stroke":null},
   "title":{"text":"C","anchor":"start","frame":"group","dx":-51,"dy":10,"fontSize":15,"fontWeight":"normal","color":"#111","offset":0},
   "data":{"name":"bars"},
   "transform":[{"filter":"datum.cell=='Kelly'"},{"calculate":"indexof(['G1','S','G2/M'],datum.phase)","as":"ord"}],
   "layer":[
    {"mark":{"type":"bar","stroke":"#c4c4c4","strokeWidth":0.5},
     "encoding":{
      "x":{"field":"grp","type":"nominal","sort":["Control","miR-186-5p","siRNA NC","Eg5 siRNA"],"scale":{"paddingInner":0.3,"paddingOuter":0.15},"axis":{"title":null,"labelAngle":-45,"labelFontSize":14,"labelFontWeight":"bold","labelColor":"#111","ticks":false,"domainColor":"#111","domainWidth":2,"labelPadding":4}},
      "y":{"field":"v","type":"quantitative","stack":"zero","scale":{"domain":[0,150],"nice":false},"axis":{"values":[0,50,100,150],"labelFontSize":11,"labelFontWeight":"bold","labelColor":"#111","tickSize":5,"tickWidth":2,"tickColor":"#111","domainColor":"#111","domainWidth":2,"labelPadding":2,"title":"% of cells","titleFontSize":11.5,"titleFontWeight":"bold","titleColor":"#111","titlePadding":4}},
      "color":{"field":"phase","type":"nominal","scale":{"domain":["G2/M","S","G1"],"range":["#7f7f7f","#a6a6aa","#616161"]},"legend":{"title":null,"orient":"right","offset":1,"padding":2,"symbolType":"M-1.8,-1H1.8V1H-1.8Z","symbolSize":100,"symbolStrokeWidth":0,"labelFontSize":12,"labelColor":"#222","labelOffset":9,"rowPadding":5}},
      "order":{"field":"ord","type":"quantitative"}}},
    {"mark":{"type":"point","opacity":0},
     "encoding":{"x":{"field":"grp","type":"nominal","sort":["Control","miR-186-5p","siRNA NC","Eg5 siRNA"],"axis":{"orient":"top","title":"Kelly","labels":false,"ticks":false,"domain":false,"titleFontSize":17,"titleFontWeight":"normal","titleColor":"#111","titlePadding":-6}}}}
   ],
   "resolve":{"axis":{"x":"independent"}}}
 ],
 "spacing":170,"bounds":"flush","resolve":{"scale":{"color":"independent"}}}
],
"spacing":19,"bounds":"flush"}
],
"spacing":24
}
